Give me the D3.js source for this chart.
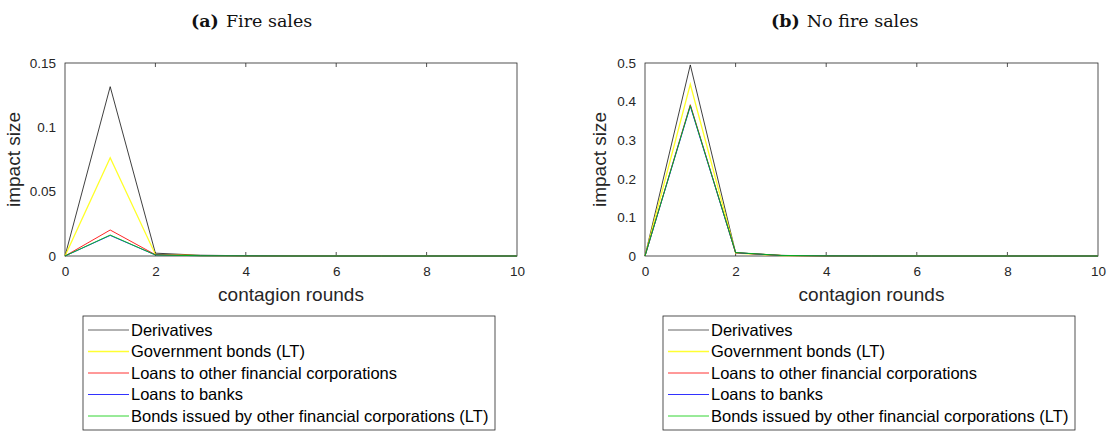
<!DOCTYPE html>
<html>
<head>
<meta charset="utf-8">
<script src="https://cdn.jsdelivr.net/npm/d3@7"></script>
<style>
body { margin: 0; background: #fff; }
svg { display: block; }
</style>
</head>
<body>
<div id="chart"></div>
<script>
// contagion rounds 0..10
var rounds = [0, 1, 2, 3, 4, 5, 6, 7, 8, 9, 10];

var seriesNames = [
    "Derivatives",
    "Government bonds (LT)",
    "Loans to other financial corporations",
    "Loans to banks",
    "Bonds issued by other financial corporations (LT)"
];
var seriesColors = ["#000000", "#ffff00", "#ff0000", "#0000ff", "#00cc00"];

// (a) fire sales
var fireDerivatives = [0, 0.1316, 0.0022, 0.0006, 0.0002, 0.0001, 0, 0, 0, 0, 0];
var fireGovBonds    = [0, 0.0764, 0.0012, 0.0003, 0.0001, 0, 0, 0, 0, 0, 0];
var fireLoansOFC    = [0, 0.0202, 0.0010, 0.0003, 0.0001, 0, 0, 0, 0, 0, 0];
var fireLoansBanks  = [0, 0.0160, 0.0008, 0.0002, 0.0001, 0, 0, 0, 0, 0, 0];
var fireBondsOFC    = [0, 0.0163, 0.0008, 0.0002, 0.0001, 0, 0, 0, 0, 0, 0];

// (b) no fire sales
var noDerivatives = [0, 0.495, 0.0085, 0.0015, 0.0004, 0.0001, 0, 0, 0, 0, 0];
var noGovBonds    = [0, 0.445, 0.0075, 0.0013, 0.0003, 0.0001, 0, 0, 0, 0, 0];
var noLoansOFC    = [0, 0.392, 0.0085, 0.0014, 0.0003, 0.0001, 0, 0, 0, 0, 0];
var noLoansBanks  = [0, 0.388, 0.0085, 0.0014, 0.0003, 0.0001, 0, 0, 0, 0, 0];
var noBondsOFC    = [0, 0.390, 0.0090, 0.0015, 0.0003, 0.0001, 0, 0, 0, 0, 0];

var fireTicks = [0, 0.05, 0.1, 0.15];
var noTicks = [0, 0.1, 0.2, 0.3, 0.4, 0.5];
var xTicks = [0, 2, 4, 6, 8, 10];

var svgWidth = 1113;
var svgHeight = 436;

var svg = d3.select("#chart")
    .append("svg")
    .attr("width", svgWidth)
    .attr("height", svgHeight);

var panels = [
    { left: 65, right: 517, titleX: 191, tag: "(a)", title: "Fire sales", yMax: 0.15, ticks: fireTicks,
      data: [fireDerivatives, fireGovBonds, fireLoansOFC, fireLoansBanks, fireBondsOFC],
      legend: { x: 83, y: 316, w: 412, h: 114 } },
    { left: 645, right: 1098, titleX: 771, tag: "(b)", title: "No fire sales", yMax: 0.5, ticks: noTicks,
      data: [noDerivatives, noGovBonds, noLoansOFC, noLoansBanks, noBondsOFC],
      legend: { x: 663, y: 316, w: 412, h: 114 } }
];

var plotTop = 63, plotBottom = 256;
var tickFont = "Liberation Sans, Arial, sans-serif";

panels.forEach(function(p) {
    var x = d3.scaleLinear().domain([0, 10]).range([p.left, p.right]);
    var y = d3.scaleLinear().domain([0, p.yMax]).range([plotBottom, plotTop]);

    // title
    var title = svg.append("text")
        .attr("x", p.titleX)
        .attr("y", 27)
        .attr("font-family", "DejaVu Serif, serif")
        .attr("font-size", "17.5px")
        .attr("fill", "#111");
    title.append("tspan").attr("font-weight", "bold").text(p.tag);
    title.append("tspan").attr("dx", 7).text(p.title);

    var g = svg.append("g");

    // box
    g.append("rect")
        .attr("x", p.left).attr("y", plotTop)
        .attr("width", p.right - p.left).attr("height", plotBottom - plotTop)
        .attr("fill", "#fff")
        .attr("stroke", "#262626")
        .attr("stroke-width", 0.8);

    // x axis
    var xAxis = g.append("g")
        .attr("transform", `translate(0, ${plotBottom})`)
        .call(d3.axisBottom(x).tickValues(xTicks).tickSize(0).tickPadding(10));
    xAxis.select(".domain").remove();
    xAxis.selectAll("text").attr("font-family", tickFont).attr("font-size", "13.5px").attr("fill", "#262626");

    // inner ticks, top and bottom
    xTicks.slice(1, -1).forEach(function(t) {
        g.append("line").attr("x1", x(t)).attr("x2", x(t)).attr("y1", plotBottom).attr("y2", plotBottom - 4)
            .attr("stroke", "#262626").attr("stroke-width", 0.8);
        g.append("line").attr("x1", x(t)).attr("x2", x(t)).attr("y1", plotTop).attr("y2", plotTop + 4)
            .attr("stroke", "#262626").attr("stroke-width", 0.8);
    });

    // y axis
    var yAxis = g.append("g")
        .attr("transform", `translate(${p.left}, 0)`)
        .call(d3.axisLeft(y).tickValues(p.ticks).tickFormat(d => d === 0 ? "0" : String(d)).tickSize(0).tickPadding(9));
    yAxis.select(".domain").remove();
    yAxis.selectAll("text").attr("font-family", tickFont).attr("font-size", "13.5px").attr("fill", "#262626");

    // axis labels
    g.append("text")
        .attr("x", (p.left + p.right) / 2)
        .attr("y", 301)
        .attr("text-anchor", "middle")
        .attr("font-family", tickFont)
        .attr("font-size", "19px")
        .attr("fill", "#262626")
        .text("contagion rounds");

    var labelX = p.left - (p.yMax < 0.2 ? 45 : 39);
    g.append("text")
        .attr("transform", `translate(${labelX}, ${(plotTop + plotBottom) / 2}) rotate(-90)`)
        .attr("text-anchor", "middle")
        .attr("font-family", tickFont)
        .attr("font-size", "19px")
        .attr("fill", "#262626")
        .text("impact size");

    // lines
    var line = d3.line()
        .x((d, i) => x(rounds[i]))
        .y(d => y(d));

    p.data.forEach(function(vals, i) {
        g.append("path")
            .datum(vals)
            .attr("d", line)
            .attr("fill", "none")
            .attr("stroke", seriesColors[i])
            .attr("stroke-width", i === 1 ? 1.3 : 1)
            .attr("opacity", i === 0 ? 0.75 : 0.85);
    });

    // legend
    var L = p.legend;
    var lg = svg.append("g");
    lg.append("rect")
        .attr("x", L.x).attr("y", L.y).attr("width", L.w).attr("height", L.h)
        .attr("fill", "#fff").attr("stroke", "#262626").attr("stroke-width", 0.8);

    seriesNames.forEach(function(name, i) {
        var ly = L.y + 14 + i * 21.5;
        lg.append("line")
            .attr("x1", L.x + 5).attr("x2", L.x + 46)
            .attr("y1", ly).attr("y2", ly)
            .attr("stroke", seriesColors[i])
            .attr("stroke-width", i === 1 ? 1.4 : 1)
            .attr("opacity", i === 0 ? 0.6 : 0.8);
        lg.append("text")
            .attr("x", L.x + 48)
            .attr("y", ly + 5.5)
            .attr("font-family", tickFont)
            .attr("font-size", "16.5px")
            .attr("fill", "#000")
            .text(name);
    });
});
</script>
</body>
</html>
